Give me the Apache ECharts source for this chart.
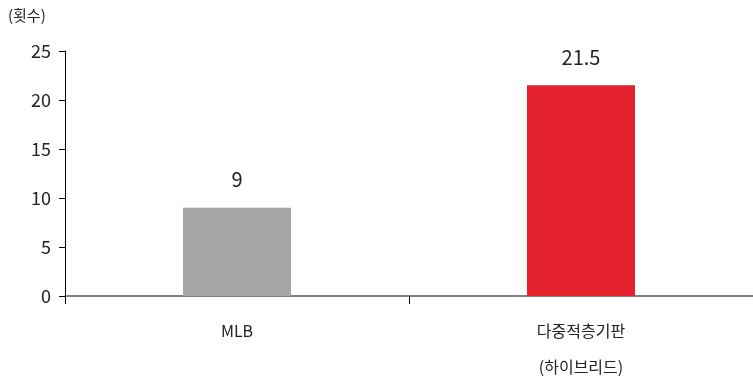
<!DOCTYPE html>
<html>
<head>
<meta charset="utf-8">
<script src="https://cdn.jsdelivr.net/npm/echarts@6/dist/echarts.min.js"></script>
<style>
  html, body { margin: 0; padding: 0; background: #fff; }
  #chart { width: 753px; height: 385px; }
</style>
</head>
<body>
<div id="chart"></div>
<script>
const categories = ['MLB', '다중적층기판\n(하이브리드)']
const values = [9, 21.5]
const barColors = ['#A5A5A5', '#E42230']
const yTicks = { min: 0, max: 25, interval: 5 }

const font = '"Noto Sans CJK KR", "Noto Sans", sans-serif'

const chart = echarts.init(document.getElementById('chart'), null, { renderer: 'canvas' })

chart.setOption({
  backgroundColor: '#fff',
  animation: false,
  grid: { left: 65, right: 0, top: 51, bottom: 83, containLabel: false },
  xAxis: {
    type: 'category',
    data: categories,
    axisLine: { lineStyle: { color: '#595959', width: 1.5 } },
    axisTick: { show: true, alignWithLabel: false, length: 8, lineStyle: { color: '#000' } },
    axisLabel: { color: '#222', fontSize: 16, fontFamily: font, lineHeight: 36, margin: 17 },
  },
  yAxis: {
    type: 'value',
    min: yTicks.min, max: yTicks.max, interval: yTicks.interval,
    name: '(횟수)',
    nameLocation: 'end',
    nameGap: 28,
    nameTextStyle: { color: '#222', fontSize: 15, fontFamily: font, align: 'left', padding: [0, 0, 0, -57] },
    axisLine: { show: true, lineStyle: { color: '#000', width: 1 } },
    axisTick: { show: true, length: 6, lineStyle: { color: '#000' } },
    axisLabel: { color: '#222', fontSize: 18, fontFamily: font, margin: 14 },
    splitLine: { show: false },
  },
  series: [{
    type: 'bar',
    data: values.map((v, i) => ({ value: v, itemStyle: { color: barColors[i] } })),
    barWidth: 108,
    label: {
      show: true, position: 'top', distance: 18,
      color: '#222', fontSize: 20, fontFamily: font,
    },
  }],
})
</script>
</body>
</html>
